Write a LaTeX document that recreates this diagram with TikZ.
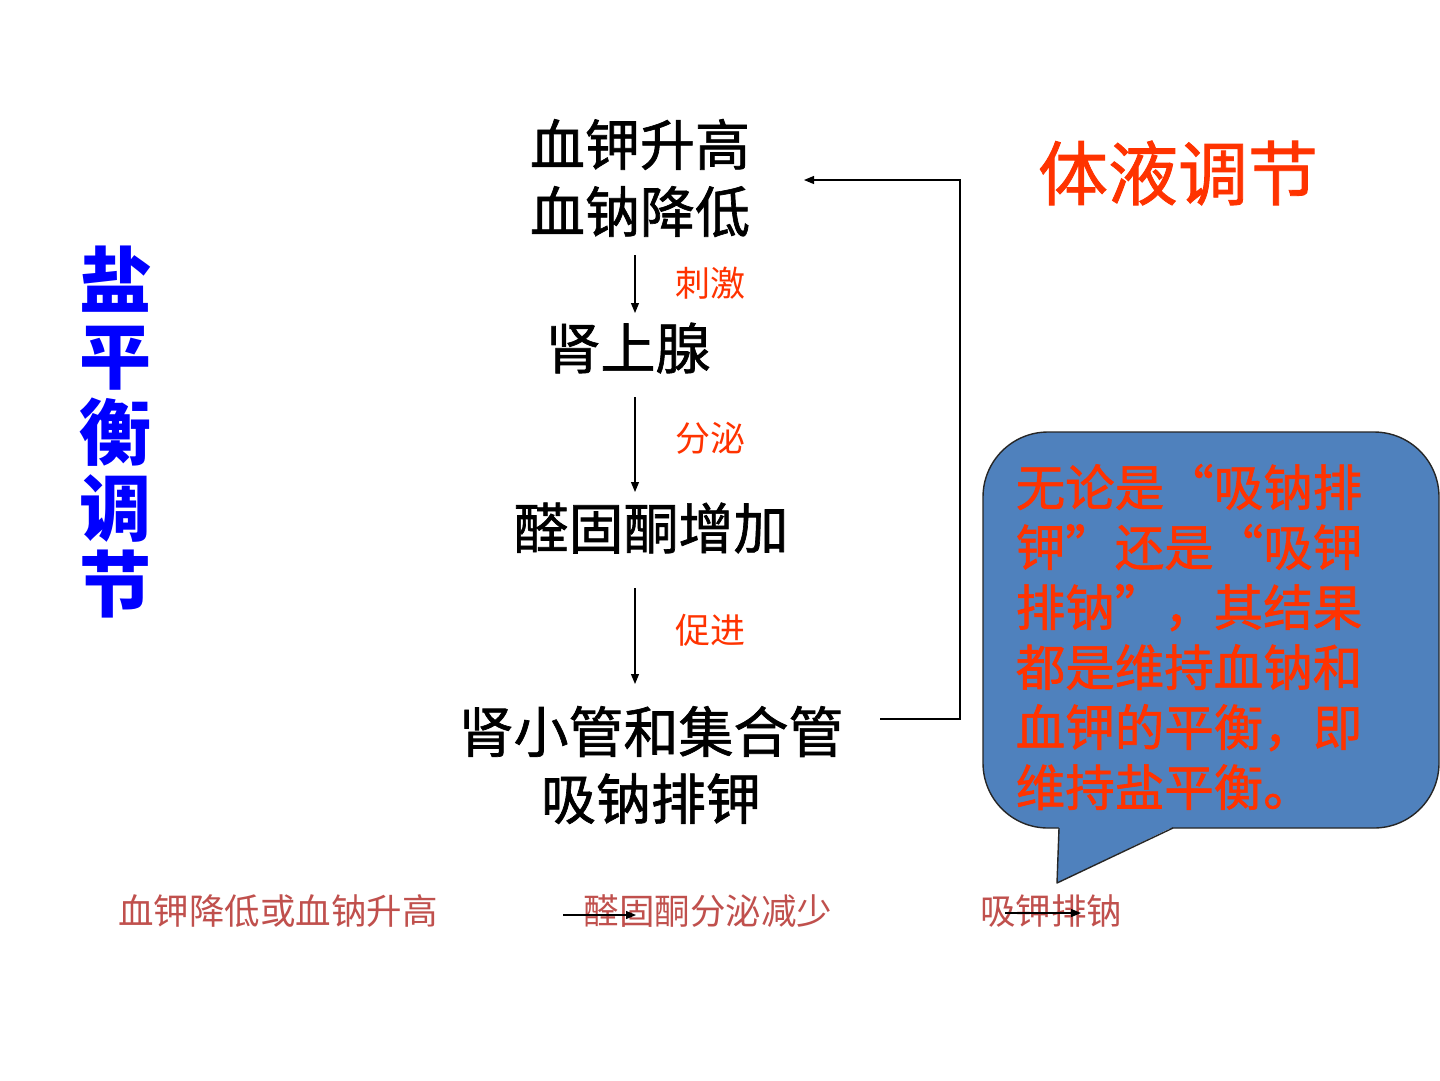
\documentclass[tikz,border=0pt]{standalone}
\usepackage{fontspec}
\setmainfont{Noto Sans CJK SC}
\newfontfamily\cjkheavy[FakeBold=1.2]{Noto Sans CJK SC}
\usetikzlibrary{arrows.meta}
\definecolor{titleblue}{RGB}{0,0,255}
\definecolor{labred}{RGB}{255,51,0}
\definecolor{bottomred}{RGB}{192,80,77}
\definecolor{callblue}{RGB}{79,129,189}
\begin{document}
\begin{tikzpicture}[x=1pt,y=-1pt,
  big/.style={font=\cjkheavy\fontsize{55}{67}\selectfont, align=center, inner sep=0pt},
  lab/.style={text=labred, font=\fontsize{35}{40}\selectfont, inner sep=0pt},
  bot/.style={text=bottomred, font=\fontsize{35.5}{40}\selectfont, inner sep=0pt},
  arr/.style={-{Triangle[length=10pt,width=8pt]}, line width=1.1pt}]
\useasboundingbox[fill=white] (0,0) rectangle (1440,1080);

% vertical title
\node[text=titleblue, font=\fontsize{72}{76}\selectfont\bfseries, align=center, inner sep=0pt] (v) at (115,432) {盐\\平\\衡\\调\\节};
% right title
\node[text=labred, font=\cjkheavy\fontsize{70}{80}\selectfont, inner sep=0pt] (t) at (1178,173) {体液调节};

% flow nodes
\node[big] (n1) at (640,178) {血钾升高\\血钠降低};
\node[big] (n2) at (628,348) {肾上腺};
\node[big] (n3) at (651,528) {醛固酮增加};
\node[big] (n4) at (651,765) {肾小管和集合管\\吸钠排钾};

\node[lab] (l1) at (710,283) {刺激};
\node[lab] (l2) at (710,438) {分泌};
\node[lab] (l3) at (710,630) {促进};

\coordinate (a1s) at (635,255); \coordinate (a1e) at (635,313);
\coordinate (a2s) at (635,397); \coordinate (a2e) at (635,492);
\coordinate (a3s) at (635,588); \coordinate (a3e) at (635,684);
\draw[arr] (a1s) -- (a1e);
\draw[arr] (a2s) -- (a2e);
\draw[arr] (a3s) -- (a3e);

% feedback
\coordinate (fbS) at (880,719);
\coordinate (fbE) at (804,180);
\draw[arr] (fbS) -- (960,719) |- (fbE);

% callout
\draw[fill=callblue, draw=black!85, line width=1.4pt, rounded corners=65] (983,432) rectangle (1439,828);
\fill[callblue] (1059,826) -- (1057,883) -- (1175,826) -- cycle;
\draw[black!85, line width=1.4pt, line join=round] (1059,828) -- (1057,883) -- (1173,828);
\node[text=labred, font=\cjkheavy\fontsize{49.5}{60}\selectfont\addfontfeatures{RawFeature=+fwid}, align=left, inner sep=0pt] (ct) at (1189,637) {无论是“吸钠排\\钾”还是“吸钾\\排钠”，其结果\\都是维持血钠和\\血钾的平衡，即\\维持盐平衡。};

% bottom row
\node[bot] (b1) at (278,911) {血钾降低或血钠升高};
\node[bot] (b2) at (708,911) {醛固酮分泌减少};
\node[bot] (b3) at (1051,911) {吸钾排钠};
\coordinate (c1s) at (563,915); \coordinate (c1e) at (636,915);
\coordinate (c2s) at (1005,913); \coordinate (c2e) at (1081,913);
\draw[arr] (c1s) -- (c1e);
\draw[arr] (c2s) -- (c2e);
\end{tikzpicture}
\end{document}
